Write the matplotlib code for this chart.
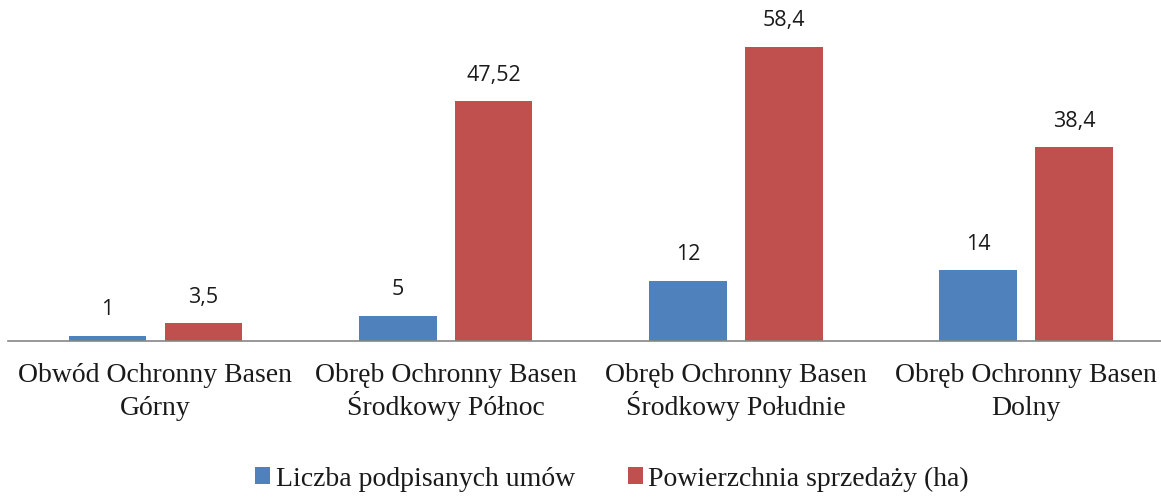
import matplotlib
matplotlib.use("Agg")
import matplotlib.pyplot as plt
from matplotlib.patches import Patch
from matplotlib.font_manager import FontProperties

categories = ["Obwód Ochronny Basen\nGórny",
              "Obręb Ochronny Basen\nŚrodkowy Północ",
              "Obręb Ochronny Basen\nŚrodkowy Południe",
              "Obręb Ochronny Basen\nDolny"]
series_names = ["Liczba podpisanych umów", "Powierzchnia sprzedaży (ha)"]
umowy = [1, 5, 12, 14]
powierzchnia = [3.5, 47.52, 58.4, 38.4]
umowy_labels = ["1", "5", "12", "14"]
powierzchnia_labels = ["3,5", "47,52", "58,4", "38,4"]

BLUE = "#4F81BD"
RED = "#C0504D"
TXT = "#1a1a1a"
serif_fp = FontProperties(family=["Liberation Serif", "DejaVu Serif"], size=20)
sans_fp = FontProperties(family=["Open Sans", "DejaVu Sans"], size=15.5)

W, H = 1161, 497
fig = plt.figure(figsize=(W / 100, H / 100), dpi=100)
ax = fig.add_axes([8 / W, (H - 341) / H, 1 - 8 / W, 341 / H])

off = 0.165
bw = 0.267
x = list(range(len(categories)))
ax.bar([i - off for i in x], umowy, width=bw, color=BLUE, zorder=2)
ax.bar([i + off for i in x], powierzchnia, width=bw, color=RED, zorder=2)

for i, v, t in zip(x, umowy, umowy_labels):
    ax.annotate(t, (i - off, v), xytext=(0, 26), textcoords="offset pixels",
                ha="center", va="center", fontproperties=sans_fp, color=TXT)
for i, v, t in zip(x, powierzchnia, powierzchnia_labels):
    ax.annotate(t, (i + off, v), xytext=(0, 26), textcoords="offset pixels",
                ha="center", va="center", fontproperties=sans_fp, color=TXT)

# category labels, line by line on fixed baselines
for i, cat in enumerate(categories):
    for k, line in enumerate(cat.split("\n")):
        ax.annotate(line, (i, 0), xycoords=("data", "axes fraction"),
                    xytext=(0, -41 - 33 * k), textcoords="offset pixels",
                    ha="center", va="baseline", fontproperties=serif_fp, color=TXT,
                    annotation_clip=False)

ax.set_xlim((8 - 155.5) / 290.2, (1161 - 155.5) / 290.2)
ax.set_ylim(0, 341 / 5.04)
ax.set_xticks([])
ax.set_yticks([])
for s in ["top", "right", "left"]:
    ax.spines[s].set_visible(False)
ax.spines["bottom"].set_color("#868686")
ax.spines["bottom"].set_linewidth(1.2)

handles = [Patch(facecolor=BLUE), Patch(facecolor=RED)]
leg = fig.legend(handles, series_names, loc="center", bbox_to_anchor=(612 / W, (H - 479) / H),
                 ncol=2, frameon=False, handlelength=0.55, handleheight=0.55, handletextpad=0.2,
                 columnspacing=1.9, borderpad=0, prop=serif_fp)
for t in leg.get_texts():
    t.set_color(TXT)

fig.savefig("out.png", dpi=100)
